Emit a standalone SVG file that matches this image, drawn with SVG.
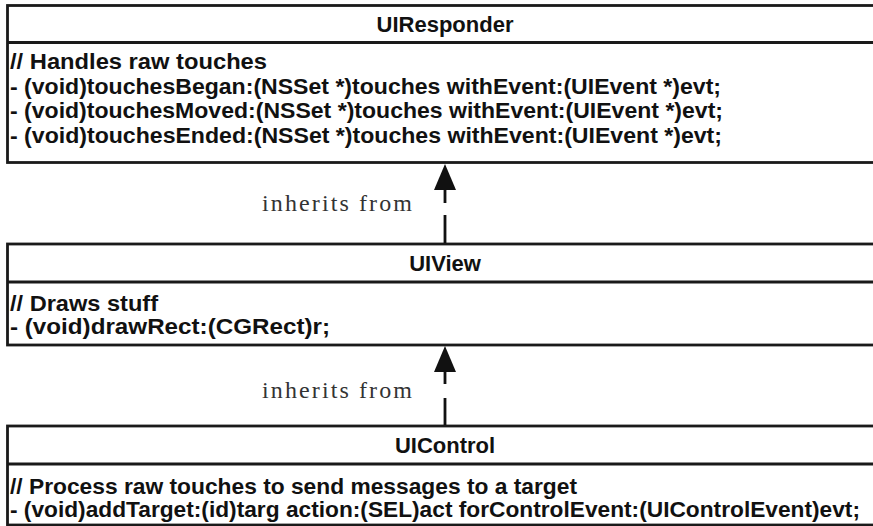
<svg xmlns="http://www.w3.org/2000/svg" width="873" height="526" viewBox="0 0 873 526">
<style>
.box{fill:#fff;stroke:#1a1a1a;stroke-width:2.8}
.div{stroke:#1a1a1a;stroke-width:2.8}
.title{font-family:"Liberation Sans",Arial,sans-serif;font-weight:bold;font-size:22px;fill:#111;text-anchor:middle}
.body{font-family:"Liberation Sans",Arial,sans-serif;font-weight:bold;font-size:22px;fill:#111}
.lbl{font-family:"Liberation Serif","Times New Roman",serif;font-size:24px;fill:#333}
.conn{stroke:#111;stroke-width:2.8;fill:none}
.head{fill:#111}
</style>
<rect width="873" height="526" fill="#fff"/>
<g id="UIResponder">
<rect class="box" x="7.5" y="5.5" width="870" height="157"/>
<line class="div" x1="7.5" y1="42.5" x2="877" y2="42.5"/>
<text class="title" x="445" y="32">UIResponder</text>
<text class="body" x="10" y="69" textLength="257" lengthAdjust="spacingAndGlyphs">// Handles raw touches</text>
<text class="body" x="10" y="93.5" textLength="711" lengthAdjust="spacingAndGlyphs">- (void)touchesBegan:(NSSet *)touches withEvent:(UIEvent *)evt;</text>
<text class="body" x="10" y="118" textLength="713" lengthAdjust="spacingAndGlyphs">- (void)touchesMoved:(NSSet *)touches withEvent:(UIEvent *)evt;</text>
<text class="body" x="10" y="142.5" textLength="712" lengthAdjust="spacingAndGlyphs">- (void)touchesEnded:(NSSet *)touches withEvent:(UIEvent *)evt;</text>
</g>
<g id="UIView">
<rect class="box" x="7.5" y="244" width="870" height="101"/>
<line class="div" x1="7.5" y1="282" x2="877" y2="282"/>
<text class="title" x="445" y="271">UIView</text>
<text class="body" x="10" y="311" textLength="148" lengthAdjust="spacingAndGlyphs">// Draws stuff</text>
<text class="body" x="10" y="334" textLength="320" lengthAdjust="spacingAndGlyphs">- (void)drawRect:(CGRect)r;</text>
</g>
<g id="UIControl">
<rect class="box" x="7.5" y="426" width="870" height="99"/>
<line class="div" x1="7.5" y1="464" x2="877" y2="464"/>
<text class="title" x="445" y="453">UIControl</text>
<text class="body" x="10" y="494" textLength="567" lengthAdjust="spacingAndGlyphs">// Process raw touches to send messages to a target</text>
<text class="body" x="10" y="517" textLength="850" lengthAdjust="spacingAndGlyphs">- (void)addTarget:(id)targ action:(SEL)act forControlEvent:(UIControlEvent)evt;</text>
</g>
<g id="connectors">
<path class="conn" d="M445 189V203M445 215V243"/>
<polygon class="head" points="445,164 434,190 456,190"/>
<text class="lbl" x="262" y="211" textLength="150" lengthAdjust="spacing">inherits from</text>
<path class="conn" d="M445 371V384M445 398V425"/>
<polygon class="head" points="445,346 434,372 456,372"/>
<text class="lbl" x="262" y="398" textLength="150" lengthAdjust="spacing">inherits from</text>
</g>
</svg>
